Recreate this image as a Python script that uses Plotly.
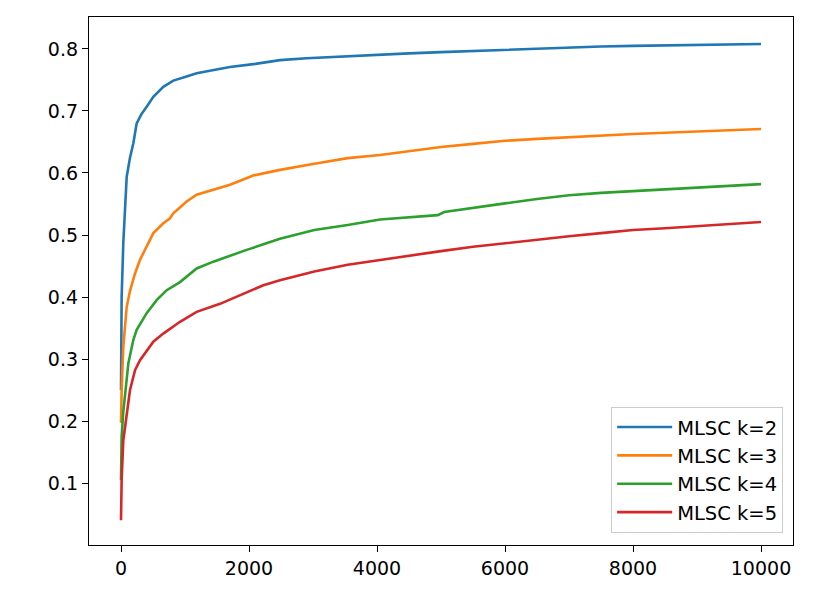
import plotly.graph_objects as go

# Data
x_k2 = [0, 10, 36, 62, 89, 141, 193, 245, 320, 401, 505, 661, 817, 1000, 1182, 1450, 1703, 2100, 2484, 2900, 3266, 3700, 4047, 4500, 5000, 5500, 6000, 6500, 7000, 7500, 8000, 8500, 9000, 9500, 10000]
y_k2 = [0.25, 0.40, 0.487, 0.55, 0.594, 0.625, 0.648, 0.68, 0.695, 0.707, 0.723, 0.739, 0.749, 0.755, 0.761, 0.766, 0.771, 0.776, 0.782, 0.785, 0.787, 0.789, 0.791, 0.793, 0.795, 0.797, 0.799, 0.801, 0.803, 0.804, 0.805, 0.806, 0.807, 0.807, 0.808]

x_k3 = [0, 10, 36, 62, 89, 141, 219, 297, 401, 505, 661, 766, 817, 1026, 1182, 1443, 1703, 2067, 2484, 3021, 3542, 4047, 4500, 5000, 5500, 6000, 6500, 7000, 7500, 8000, 8500, 9000, 9500, 10000]
y_k3 = [0.197, 0.25, 0.32, 0.355, 0.384, 0.41, 0.438, 0.46, 0.481, 0.503, 0.519, 0.527, 0.535, 0.554, 0.565, 0.573, 0.581, 0.596, 0.605, 0.615, 0.624, 0.629, 0.635, 0.642, 0.647, 0.652, 0.655, 0.658, 0.661, 0.663, 0.665, 0.667, 0.669, 0.671]

x_k4 = [0, 10, 36, 62, 115, 193, 245, 401, 557, 714, 922, 1182, 1443, 1964, 2484, 3021, 3542, 4047, 4500, 4950, 5050, 5500, 6000, 6500, 7000, 7500, 8000, 8500, 9000, 9500, 10000]
y_k4 = [0.105, 0.175, 0.215, 0.239, 0.293, 0.331, 0.347, 0.374, 0.395, 0.411, 0.424, 0.446, 0.457, 0.476, 0.494, 0.508, 0.516, 0.525, 0.529, 0.532, 0.537, 0.544, 0.551, 0.558, 0.564, 0.568, 0.571, 0.574, 0.577, 0.580, 0.582]

x_k5 = [0, 10, 36, 89, 141, 219, 297, 505, 661, 922, 1182, 1547, 1964, 2224, 2484, 3021, 3542, 4047, 4500, 5000, 5500, 6000, 6500, 7000, 7500, 8000, 8500, 9000, 9500, 10000]
y_k5 = [0.04, 0.105, 0.169, 0.212, 0.25, 0.282, 0.298, 0.328, 0.341, 0.360, 0.376, 0.389, 0.407, 0.419, 0.427, 0.441, 0.452, 0.460, 0.466, 0.474, 0.481, 0.487, 0.493, 0.498, 0.503, 0.508, 0.511, 0.514, 0.518, 0.521]

names = ["MLSC k=2", "MLSC k=3", "MLSC k=4", "MLSC k=5"]
colors = ["#1f77b4", "#ff7f0e", "#2ca02c", "#d62728"]
xs = [x_k2, x_k3, x_k4, x_k5]
ys = [y_k2, y_k3, y_k4, y_k5]

x_ticks = [0, 2000, 4000, 6000, 8000, 10000]
y_ticks = [0.1, 0.2, 0.3, 0.4, 0.5, 0.6, 0.7, 0.8]

fig = go.Figure()
for x, y, n, c in zip(xs, ys, names, colors):
    fig.add_trace(go.Scatter(x=x, y=y, mode="lines", name=n,
                             line=dict(color=c, width=2.6)))

font = dict(family="DejaVu Sans", size=19, color="black")
fig.update_layout(
    width=826, height=592,
    margin=dict(l=89, r=33, t=17, b=47),
    paper_bgcolor="white", plot_bgcolor="white",
    font=font,
    showlegend=True,
    legend=dict(x=0.986, xanchor="right", y=0.023, yanchor="bottom",
                bgcolor="rgba(255,255,255,0.8)", bordercolor="#cccccc", borderwidth=1,
                font=dict(family="DejaVu Sans", size=19.5, color="black"),
                itemwidth=55),
    xaxis=dict(range=[-500, 10500], tickvals=x_ticks, ticktext=[str(v) for v in x_ticks],
               showgrid=False, zeroline=False, showline=True, linecolor="black", linewidth=1.3,
               mirror=True, ticks="outside", ticklen=6, tickcolor="black", tickwidth=1.3),
    yaxis=dict(range=[0.0, 0.8516], tickvals=y_ticks, ticktext=[f"{v:.1f}" for v in y_ticks],
               showgrid=False, zeroline=False, showline=True, linecolor="black", linewidth=1.3,
               mirror=True, ticks="outside", ticklen=6, tickcolor="black", tickwidth=1.3),
)

fig.write_html("out.html")
